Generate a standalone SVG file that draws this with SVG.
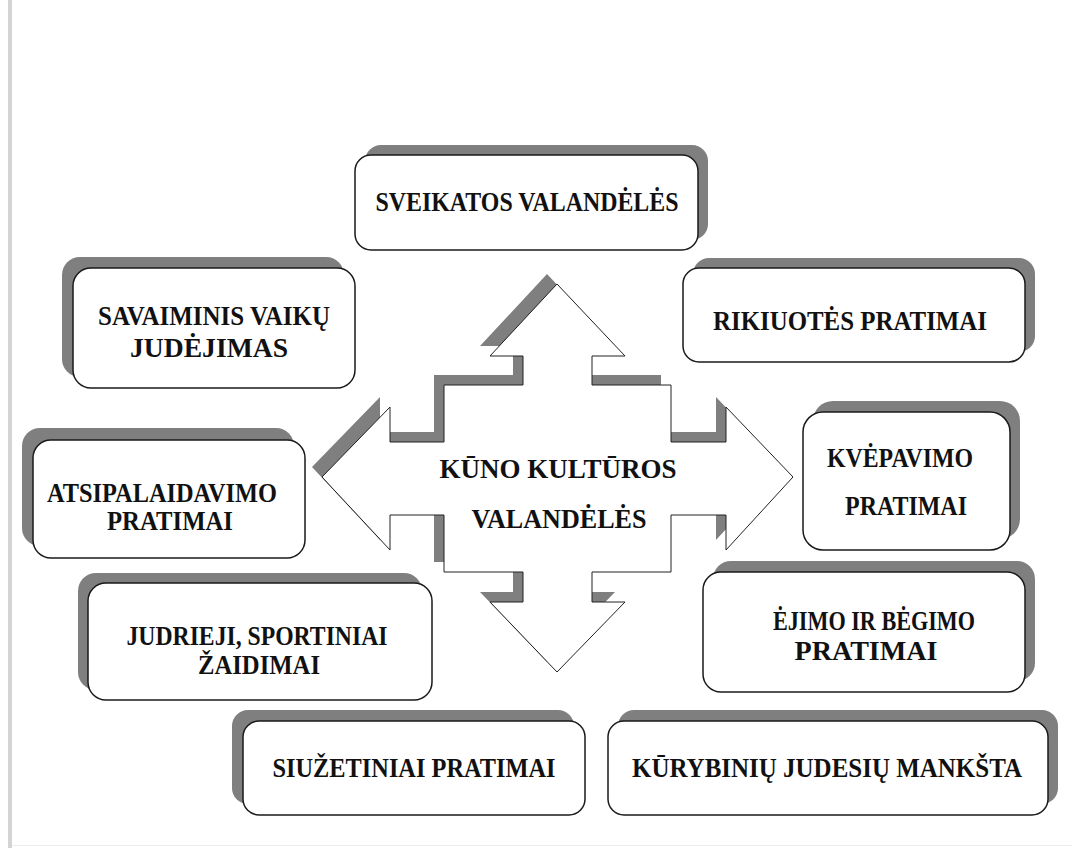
<svg xmlns="http://www.w3.org/2000/svg" width="1072" height="848" viewBox="0 0 1072 848">
<style>
.sh{fill:#7f7f7f}
.bx{fill:#fff;stroke:#1a1a1a;stroke-width:1.5}
.t{font-family:"Liberation Serif","Times New Roman",serif;font-weight:bold;font-size:27px;fill:#111;text-anchor:middle}
.ct{font-size:28px}
</style>
<rect x="0" y="0" width="1072" height="848" fill="#fff"/>
<rect x="8" y="0" width="4" height="848" fill="#d4d4d4"/>
<rect x="12" y="845" width="1060" height="1" fill="#ececec"/>

<g id="center">
<polygon class="sh" transform="translate(-10,-10)" points="557,284 625,356 592,356 592,385 671,385 671,442 726,442 726,407 793,477 726,550 726,515 671,515 671,572 592,572 592,602 625,602 557,672 490,602 523,602 523,572 444,572 444,515 390,515 390,550 322,477 390,407 390,442 444,442 444,385 523,385 523,356 490,356"/>
<polygon fill="#fff" stroke="#222" stroke-width="1" points="557,284 625,356 592,356 592,385 671,385 671,442 726,442 726,407 793,477 726,550 726,515 671,515 671,572 592,572 592,602 625,602 557,672 490,602 523,602 523,572 444,572 444,515 390,515 390,550 322,477 390,407 390,442 444,442 444,385 523,385 523,356 490,356"/>
<text class="t ct" x="558" y="478" textLength="237" lengthAdjust="spacingAndGlyphs">KŪNO KULTŪROS</text>
<text class="t ct" x="559" y="528" textLength="175" lengthAdjust="spacingAndGlyphs">VALANDĖLĖS</text>
</g>

<g id="sveikatos">
<rect class="sh" x="365" y="145" width="343" height="95" rx="16"/>
<rect class="bx" x="355" y="155" width="343" height="95" rx="16"/>
<text class="t" x="527" y="211" textLength="303" lengthAdjust="spacingAndGlyphs">SVEIKATOS VALANDĖLĖS</text>
</g>

<g id="savaiminis">
<rect class="sh" x="62" y="257" width="282" height="120" rx="18"/>
<rect class="bx" x="73" y="268" width="282" height="120" rx="18"/>
<text class="t" x="214" y="325" textLength="232" lengthAdjust="spacingAndGlyphs">SAVAIMINIS VAIKŲ</text>
<text class="t" x="209" y="357" textLength="158" lengthAdjust="spacingAndGlyphs">JUDĖJIMAS</text>
</g>

<g id="rikiuotes">
<rect class="sh" x="693" y="258" width="342" height="94" rx="16"/>
<rect class="bx" x="683" y="268" width="342" height="94" rx="16"/>
<text class="t" x="850" y="330" textLength="274" lengthAdjust="spacingAndGlyphs">RIKIUOTĖS PRATIMAI</text>
</g>

<g id="atsipalaidavimo">
<rect class="sh" x="22" y="428" width="272" height="118" rx="18"/>
<rect class="bx" x="33" y="440" width="272" height="118" rx="18"/>
<text class="t" x="162" y="502" textLength="230" lengthAdjust="spacingAndGlyphs">ATSIPALAIDAVIMO</text>
<text class="t" x="170" y="530" textLength="126" lengthAdjust="spacingAndGlyphs">PRATIMAI</text>
</g>

<g id="kvepavimo">
<rect class="sh" x="813" y="401" width="207" height="138" rx="20"/>
<rect class="bx" x="803" y="412" width="207" height="138" rx="20"/>
<text class="t" x="900" y="467" textLength="146" lengthAdjust="spacingAndGlyphs">KVĖPAVIMO</text>
<text class="t" x="906" y="515" textLength="122" lengthAdjust="spacingAndGlyphs">PRATIMAI</text>
</g>

<g id="judrieji">
<rect class="sh" x="78" y="573" width="344" height="117" rx="18"/>
<rect class="bx" x="88" y="583" width="344" height="117" rx="18"/>
<text class="t" x="257" y="645" textLength="261" lengthAdjust="spacingAndGlyphs">JUDRIEJI, SPORTINIAI</text>
<text class="t" x="259" y="674" textLength="122" lengthAdjust="spacingAndGlyphs">ŽAIDIMAI</text>
</g>

<g id="ejimo">
<rect class="sh" x="713" y="561" width="322" height="120" rx="18"/>
<rect class="bx" x="703" y="572" width="322" height="120" rx="18"/>
<text class="t" x="874" y="630" textLength="202" lengthAdjust="spacingAndGlyphs">ĖJIMO IR BĖGIMO</text>
<text class="t" x="866" y="660" textLength="143" lengthAdjust="spacingAndGlyphs">PRATIMAI</text>
</g>

<g id="siuzetiniai">
<rect class="sh" x="232" y="710" width="342" height="94" rx="16"/>
<rect class="bx" x="243" y="721" width="342" height="94" rx="16"/>
<text class="t" x="414" y="777" font-size="30" textLength="283" lengthAdjust="spacingAndGlyphs">SIUŽETINIAI PRATIMAI</text>
</g>

<g id="kurybiniu">
<rect class="sh" x="618" y="710" width="440" height="94" rx="16"/>
<rect class="bx" x="608" y="721" width="440" height="94" rx="16"/>
<text class="t" x="827" y="777" font-size="30" textLength="390" lengthAdjust="spacingAndGlyphs">KŪRYBINIŲ JUDESIŲ MANKŠTA</text>
</g>
</svg>
